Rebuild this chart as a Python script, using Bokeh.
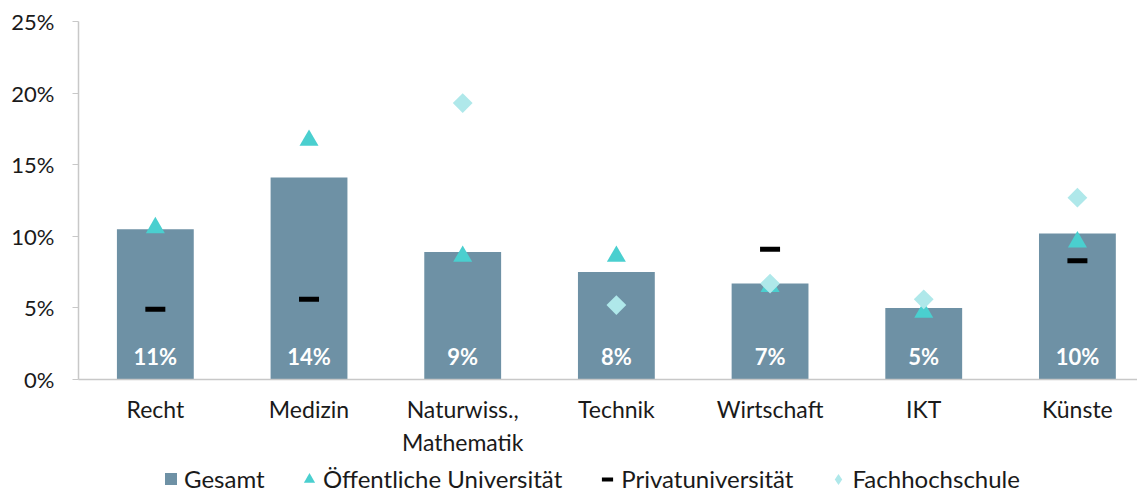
import numpy as np
from bokeh.plotting import figure
from bokeh.layouts import column
from bokeh.models import Range1d, FixedTicker, Legend, LegendItem, ColumnDataSource
from bokeh.core.properties import value
from bokeh.embed import file_html
from bokeh.resources import INLINE

categories = ["Recht", "Medizin", "Naturwiss.,\nMathematik", "Technik", "Wirtschaft", "IKT", "Künste"]
gesamt = [10.5, 14.1, 8.9, 7.5, 6.7, 5.0, 10.2]
gesamt_labels = ["11%", "14%", "9%", "8%", "7%", "5%", "10%"]
oeffentlich = [10.6, 16.7, 8.6, 8.6, 6.5, 4.7, 9.6]
privat = [4.9, 5.6, np.nan, np.nan, 9.1, np.nan, 8.3]
fachhochschule = [np.nan, np.nan, 19.3, 5.2, 6.7, 5.6, 12.7]
y_ticks = [0, 5, 10, 15, 20, 25]
series_names = ["Gesamt", "Öffentliche Universität", "Privatuniversität", "Fachhochschule"]

FONT = "Lato"
TXT = "#1A1A1A"
C_BAR = "#6E91A5"
C_TRI = "#4ACFCF"
C_DIA = "#AFE8EA"
xs = list(range(len(categories)))

src = ColumnDataSource(dict(x=xs, gesamt=gesamt, lab=gesamt_labels, oe=oeffentlich,
                            pr=privat, fh=fachhochschule))

W = 1137
p = figure(width=W, height=459, x_range=Range1d(-0.5, 6.391), y_range=Range1d(0, 25),
           output_backend="svg", toolbar_location=None,
           min_border_left=78, min_border_right=0, min_border_top=21, min_border_bottom=79)
p.outline_line_color = None
p.grid.grid_line_color = None
p.background_fill_color = "white"

p.vbar(x="x", top="gesamt", width=0.5, source=src, fill_color=C_BAR, line_color=None)
p.text(x="x", y=0, text="lab", source=src, text_align="center", text_baseline="middle",
       y_offset=-23, text_color="white", text_font_style="bold", text_font=value(FONT),
       text_font_size="22px")
p.scatter(x="x", y="oe", source=src, marker="triangle", size=19,
          fill_color=C_TRI, line_color=None)
p.scatter(x="x", y="pr", source=src, marker="dash", size=20,
          line_color="black", line_width=5)
p.scatter(x="x", y="fh", source=src, marker="square", angle=np.pi / 4, size=14,
          fill_color=C_DIA, line_color=None)

# x axis
xa = p.xaxis[0]
xa.ticker = FixedTicker(ticks=xs)
xa.major_label_overrides = {i: c for i, c in zip(xs, categories)}
xa.major_tick_out = 0
xa.major_tick_in = 0
xa.minor_tick_out = 0
xa.minor_tick_in = 0
xa.axis_line_color = "#C8C8C8"
xa.axis_line_width = 1.5
xa.major_label_standoff = 15
xa.major_label_text_font = FONT
xa.major_label_text_font_size = "23px"
xa.major_label_text_color = TXT

# y axis
ya = p.yaxis[0]
ya.ticker = FixedTicker(ticks=y_ticks)
ya.major_label_overrides = {t: f"{t}%" for t in y_ticks}
ya.major_tick_out = 6
ya.major_tick_in = 0
ya.minor_tick_out = 0
ya.minor_tick_in = 0
ya.major_tick_line_color = "#C8C8C8"
ya.axis_line_color = "#C8C8C8"
ya.axis_line_width = 1.5
ya.major_label_standoff = 18
ya.major_label_text_font = FONT
ya.major_label_text_font_size = "22px"
ya.major_label_text_color = TXT

# legend strip (separate small figure so the legend is not clipped by the plot frame)
lg = figure(width=W, height=34, x_range=Range1d(0, 1), y_range=Range1d(0, 1),
            output_backend="svg", toolbar_location=None,
            x_axis_type=None, y_axis_type=None,
            min_border_left=0, min_border_right=0, min_border_top=0, min_border_bottom=0)
lg.outline_line_color = None
lg.grid.grid_line_color = None
nan = [np.nan]
r1 = lg.vbar(x=nan, top=nan, width=0.5, fill_color=C_BAR, line_color=None)
r2 = lg.scatter(x=nan, y=nan, marker="triangle", size=16, fill_color=C_TRI, line_color=None)
r3 = lg.scatter(x=nan, y=nan, marker="dash", size=14, line_color="black", line_width=4)
r4 = lg.scatter(x=nan, y=nan, marker="diamond", size=12, fill_color=C_DIA, line_color=None)

common = dict(orientation="horizontal", border_line_color=None, background_fill_alpha=0,
              padding=0, margin=0, label_text_font=FONT, label_text_font_size="24px",
              label_text_color=TXT)

legend_a = Legend(items=[LegendItem(label=series_names[0], renderers=[r1])],
                  location=(85, 0), spacing=0, label_standoff=6,
                  glyph_width=15, glyph_height=15, label_height=22, **common)
legend_b = Legend(items=[LegendItem(label=series_names[1], renderers=[r2]),
                         LegendItem(label=series_names[2], renderers=[r3]),
                         LegendItem(label=series_names[3], renderers=[r4])],
                  location=(217, 0), spacing=31, label_standoff=0,
                  glyph_width=28, glyph_height=28, label_height=28, **common)
lg.add_layout(legend_a, "center")
lg.add_layout(legend_b, "center")

layout = column(p, lg, spacing=0)
open("out.html", "w").write(file_html(layout, INLINE))
